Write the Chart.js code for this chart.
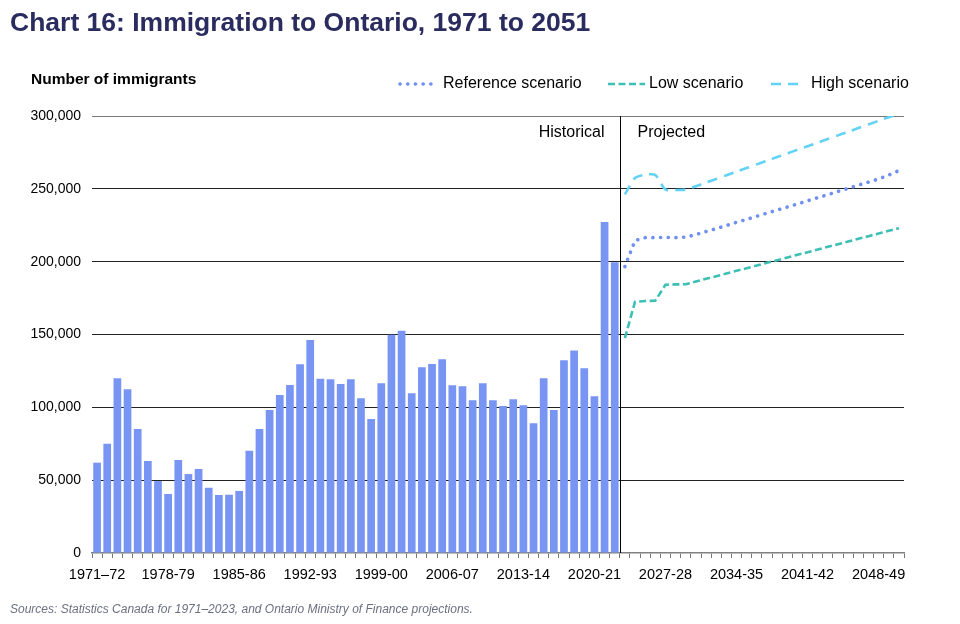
<!DOCTYPE html>
<html>
<head>
<meta charset="utf-8">
<script src="https://cdn.jsdelivr.net/npm/chart.js@4.4.1/dist/chart.umd.min.js"></script>
<style>
  html, body { margin: 0; padding: 0; background: #fff; }
  #wrap { width: 960px; height: 624px; position: relative; }
</style>
</head>
<body>
<div id="wrap"><canvas id="chart" width="960" height="624"></canvas></div>
<script>
// Fiscal years 1971-72 .. 2050-51
const categories = [];
for (let y = 1971; y <= 2050; y++) {
    categories.push(y + '-' + String((y + 1) % 100).padStart(2, '0'));
}
const tickLabels = ['1971–72', '1978-79', '1985-86', '1992-93', '1999-00', '2006-07',
    '2013-14', '2020-21', '2027-28', '2034-35', '2041-42', '2048-49'];

// Historical immigrants, 1971-72 to 2022-23
const historical = [
    62000, 75000, 120000, 112400, 85100, 63200, 49400, 40500, 63800, 54200,
    57700, 44800, 39800, 40000, 42600, 70200, 85100, 98200, 108500, 115300,
    129500, 146200, 119700, 119200, 116000, 119200, 106200, 92000, 116500, 149900,
    152600, 109600, 127500, 129700, 133000, 115100, 114400, 104800, 116500, 104800,
    100900, 105500, 101400, 89000, 119900, 98200, 132300, 139100, 126800, 107600,
    227200, 199600
];

// Projections, 2023-24 to 2050-51
const referenceScenario = [
    196600, 214500, 216500, 216500, 216600, 216500, 216800, 218600, 220700, 222700,
    224800, 227000, 229000, 231200, 233300, 235400, 237500, 239600, 241800, 243900,
    246000, 248200, 250300, 252500, 254600, 256800, 259500, 262500
];
const lowScenario = [
    147500, 172500, 173000, 173200, 184200, 184400, 184500, 186400, 188200, 190000,
    191900, 193700, 195500, 197300, 199200, 201000, 202800, 204700, 206500, 208300,
    210200, 212000, 213800, 215700, 217500, 219300, 221200, 223000
];
const highScenario = [
    246200, 257500, 259700, 259500, 249500, 249200, 249500, 251800, 254300, 256800,
    259300, 261800, 264300, 266800, 269300, 271800, 274300, 276800, 279200, 281700,
    284200, 286700, 289200, 291700, 294200, 296700, 299200, 301500
];

const nProj = referenceScenario.length;
const padProj = new Array(nProj).fill(null);
const padHist = new Array(historical.length).fill(null);

const FONT = '"Liberation Sans", Arial, sans-serif';

const decorations = {
    id: 'decorations',
    afterDraw(chart) {
        const ctx = chart.ctx;
        const x = chart.scales.x;
        const area = chart.chartArea;
        ctx.save();

        // divider between historical and projected
        const split = (x.getPixelForValue(historical.length - 1) + x.getPixelForValue(historical.length)) / 2;
        const sx = Math.round(split) + 0.5;
        ctx.strokeStyle = '#000';
        ctx.lineWidth = 1;
        ctx.beginPath();
        ctx.moveTo(sx, area.top);
        ctx.lineTo(sx, area.bottom);
        ctx.stroke();

        ctx.fillStyle = '#000';
        ctx.font = '16px ' + FONT;
        ctx.textBaseline = 'middle';
        ctx.textAlign = 'right';
        ctx.fillText('Historical', sx - 16, 133);
        ctx.textAlign = 'left';
        ctx.fillText('Projected', sx + 17, 133);

        // title
        ctx.fillStyle = '#2a2b5e';
        ctx.font = 'bold 26.5px ' + FONT;
        ctx.textBaseline = 'alphabetic';
        ctx.fillText('Chart 16: Immigration to Ontario, 1971 to 2051', 10, 31);

        // axis title
        ctx.fillStyle = '#000';
        ctx.font = 'bold 15.5px ' + FONT;
        ctx.textBaseline = 'middle';
        ctx.fillText('Number of immigrants', 31, 80);

        // legend
        const ds = chart.data.datasets;
        const items = [
            { d: ds[1], x0: 400, x1: 437, tx: 443 },
            { d: ds[2], x0: 608, x1: 645, tx: 649 },
            { d: ds[3], x0: 771, x1: 801, tx: 811 }
        ];
        ctx.font = '16px ' + FONT;
        items.forEach(it => {
            ctx.strokeStyle = it.d.borderColor;
            ctx.lineWidth = it.d.borderWidth;
            ctx.lineCap = it.d.borderCapStyle || 'butt';
            ctx.setLineDash(it.d.borderDash || []);
            ctx.beginPath();
            ctx.moveTo(it.x0, 84);
            ctx.lineTo(it.x1, 84);
            ctx.stroke();
            ctx.setLineDash([]);
            ctx.fillStyle = '#000';
            ctx.fillText(it.d.label, it.tx, 84);
        });

        // source note
        ctx.fillStyle = '#6b7080';
        ctx.font = 'italic 12px ' + FONT;
        ctx.fillText('Sources: Statistics Canada for 1971–2023, and Ontario Ministry of Finance projections.', 10, 610);

        ctx.restore();
    }
};

new Chart(document.getElementById('chart').getContext('2d'), {
    type: 'bar',
    data: {
        labels: categories,
        datasets: [
            {
                type: 'bar',
                label: 'Historical',
                data: historical.concat(padProj),
                backgroundColor: '#7895f4',
                barPercentage: 0.76,
                categoryPercentage: 1.0,
                order: 4
            },
            {
                type: 'line',
                label: 'Reference scenario',
                data: padHist.concat(referenceScenario),
                borderColor: '#6f8ff2',
                borderWidth: 3.6,
                borderDash: [0.1, 7.6],
                borderCapStyle: 'round',
                pointRadius: 0,
                tension: 0,
                order: 1
            },
            {
                type: 'line',
                label: 'Low scenario',
                data: padHist.concat(lowScenario),
                borderColor: '#3dbfb5',
                borderWidth: 2.6,
                borderDash: [7, 3.5],
                pointRadius: 0,
                tension: 0,
                order: 2
            },
            {
                type: 'line',
                label: 'High scenario',
                data: padHist.concat(highScenario),
                borderColor: '#62d2f6',
                borderWidth: 2.6,
                borderDash: [10, 7],
                pointRadius: 0,
                tension: 0.25,
                order: 3
            }
        ]
    },
    options: {
        responsive: false,
        animation: false,
        layout: { padding: { left: 0, right: 56, top: 116, bottom: 0 } },
        plugins: {
            legend: { display: false },
            tooltip: { enabled: false },
            title: { display: false }
        },
        scales: {
            x: {
                offset: true,
                grid: {
                    offset: true,
                    drawOnChartArea: false,
                    color: '#777',
                    tickLength: 5
                },
                border: { color: '#808080', width: 1.5 },
                ticks: {
                    autoSkip: false,
                    maxRotation: 0,
                    minRotation: 0,
                    padding: 8,
                    color: '#000',
                    font: { family: FONT, size: 14.5 },
                    callback: (val, i) => (i % 7 === 0 ? tickLabels[i / 7] : '')
                },
                afterFit: s => { s.height = 71; }
            },
            y: {
                min: 0,
                max: 300000,
                border: { display: false },
                grid: {
                    drawTicks: false,
                    color: ctx => (ctx.tick && ctx.tick.value === 0 ? 'rgba(0,0,0,0)' : (ctx.tick && ctx.tick.value === 300000 ? '#7a7a7a' : '#222')),
                    lineWidth: 1
                },
                ticks: {
                    stepSize: 50000,
                    padding: 11,
                    color: '#000',
                    font: { family: FONT, size: 14 },
                    callback: v => v.toLocaleString('en-US')
                },
                afterFit: s => { s.width = 92; }
            }
        }
    },
    plugins: [decorations]
});
</script>
</body>
</html>
